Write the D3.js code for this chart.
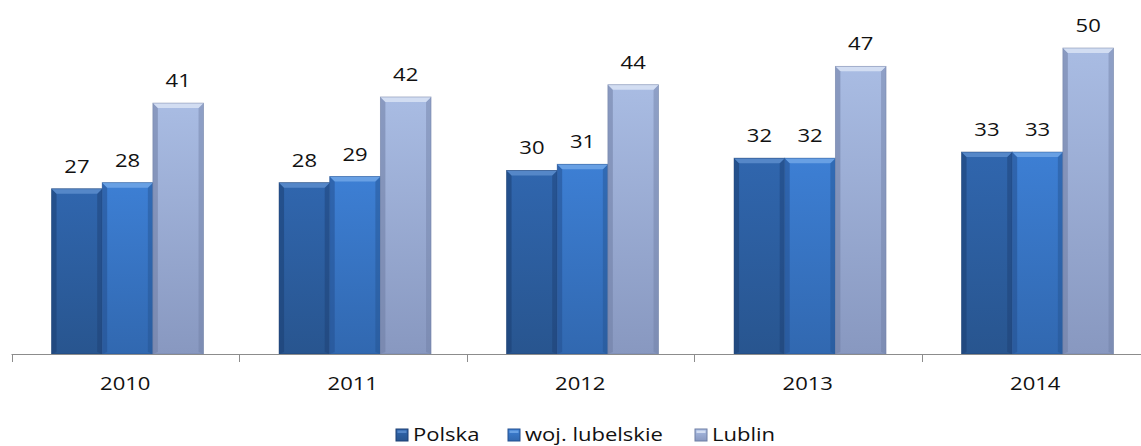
<!DOCTYPE html>
<html>
<head>
<meta charset="utf-8">
<script src="https://cdn.jsdelivr.net/npm/d3@7"></script>
<style>
  body { margin: 0; background: #fff; }
  #chart text { font-family: "Open Sans", "DejaVu Sans", sans-serif; fill: #111; font-size: 19px; }
</style>
</head>
<body>
<svg id="chart"></svg>
<script>
var years = ['2010', '2011', '2012', '2013', '2014'];
var seriesNames = ['Polska', 'woj. lubelskie', 'Lublin'];
var polska = [27, 28, 30, 32, 33];
var lubelskie = [28, 29, 31, 32, 33];
var lublin = [41, 42, 44, 47, 50];

var seriesValues = [polska, lubelskie, lublin];
var width = 1141, height = 446;
var stretch = 1.16; // the source text is drawn wide

// colours per series
var pal = [
  {top: '#3066ae', bottom: '#28558f', light: '#5587c8', edge: '#1c3f72'},
  {top: '#3d7fd4', bottom: '#3168b0', light: '#68a0e4', edge: '#24518f'},
  {top: '#a9bce3', bottom: '#8898c0', light: '#d2ddf2', edge: '#6f7ea4'}
];

var svg = d3.select('#chart').attr('width', width).attr('height', height);
var defs = svg.append('defs');

pal.forEach(function(p, i) {
  var g = defs.append('linearGradient').attr('id', 'vg' + i)
      .attr('x1', 0).attr('y1', 0).attr('x2', 0).attr('y2', 1);
  g.append('stop').attr('offset', '0%').attr('stop-color', p.top);
  g.append('stop').attr('offset', '100%').attr('stop-color', p.bottom);
});

function wideText(sel, x, y, anchor) {
  return sel.append('text')
      .attr('transform', 'translate(' + x + ',' + y + ') scale(' + stretch + ',1)')
      .attr('text-anchor', anchor || 'middle');
}

var x0 = d3.scaleBand().domain(years).range([11.5, 11.5 + 5 * 227.5]);
var bw = x0.bandwidth();
var x1 = d3.scaleBand().domain(d3.range(seriesNames.length)).range([bw * 0.176, bw * 0.176 + 152]);
var y = d3.scaleLinear().domain([0, 50]).range([354, 48]);

var groups = svg.append('g').selectAll('g').data(years).enter().append('g')
    .attr('transform', function(d) { return 'translate(' + x0(d) + ',0)'; });

var bev = 5;
groups.each(function(yr, yi) {
  var g = d3.select(this);
  seriesValues.forEach(function(vals, si) {
    var v = vals[yi], p = pal[si];
    var bx = x1(si), w = x1.bandwidth(), by = y(v), bh = y(0) - y(v);
    var b = g.append('g');
    b.append('rect').attr('x', bx).attr('y', by).attr('width', w).attr('height', bh)
        .attr('fill', 'url(#vg' + si + ')');
    // side bevels
    b.append('path')
        .attr('d', 'M' + bx + ',' + by + 'L' + (bx + bev) + ',' + (by + bev) + 'L' + (bx + bev) + ',' + (y(0) - 2) + 'L' + bx + ',' + y(0) + 'Z')
        .attr('fill', p.edge).attr('opacity', 0.55);
    b.append('path')
        .attr('d', 'M' + (bx + w) + ',' + by + 'L' + (bx + w - bev) + ',' + (by + bev) + 'L' + (bx + w - bev) + ',' + (y(0) - 2) + 'L' + (bx + w) + ',' + y(0) + 'Z')
        .attr('fill', p.edge).attr('opacity', 0.45);
    // top bevel
    b.append('path')
        .attr('d', 'M' + bx + ',' + by + 'L' + (bx + w) + ',' + by + 'L' + (bx + w - bev) + ',' + (by + bev) + 'L' + (bx + bev) + ',' + (by + bev) + 'Z')
        .attr('fill', p.light);
    b.append('rect').attr('x', bx).attr('y', by).attr('width', w).attr('height', bh)
        .attr('fill', 'none').attr('stroke', p.edge).attr('stroke-opacity', 0.6).attr('stroke-width', 0.8);
    wideText(g, bx + w / 2, by - 16).text(v);
  });
});

// axis
var axisG = svg.append('g').attr('transform', 'translate(0,354)');
axisG.append('line').attr('x1', 11.5).attr('x2', width).attr('y1', 0.5).attr('y2', 0.5)
    .attr('stroke', '#8c8c8c').attr('stroke-width', 1);
axisG.selectAll('.tick').data(years.concat(['end'])).enter().append('line')
    .attr('x1', function(d, i) { return Math.round(11.5 + i * bw) + 0.5; })
    .attr('x2', function(d, i) { return Math.round(11.5 + i * bw) + 0.5; })
    .attr('y1', 0).attr('y2', 8).attr('stroke', '#8c8c8c');
years.forEach(function(d) {
  wideText(axisG, x0(d) + bw / 2, 36).text(d);
});

// legend
var legendX = [396, 508, 695];
var leg = svg.append('g').selectAll('g').data(seriesNames).enter().append('g')
    .attr('transform', function(d, i) { return 'translate(' + legendX[i] + ',429)'; });
leg.append('rect').attr('width', 12).attr('height', 12)
    .attr('fill', function(d, i) { return 'url(#vg' + i + ')'; })
    .attr('stroke', function(d, i) { return pal[i].edge; }).attr('stroke-width', 1);
leg.append('rect').attr('x', 1.5).attr('y', 1.5).attr('width', 9).attr('height', 2.5)
    .attr('fill', function(d, i) { return pal[i].light; });
leg.each(function(d) {
  wideText(d3.select(this), 17, 12, 'start').text(d);
});
</script>
</body>
</html>
